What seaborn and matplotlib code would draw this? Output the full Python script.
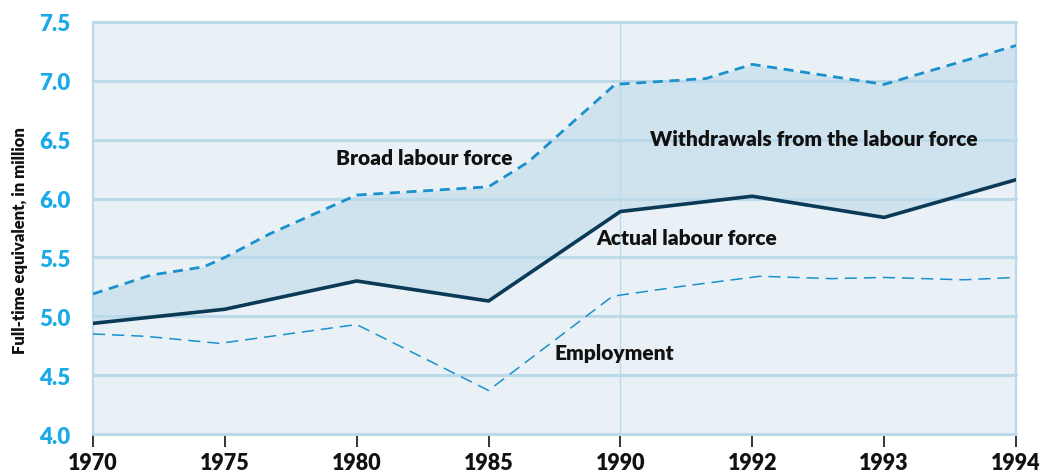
import numpy as np
import matplotlib
matplotlib.use("Agg")
import matplotlib.pyplot as plt
import seaborn as sns

# category years on the x axis (equally spaced in the chart)
tick_years = [1970, 1975, 1980, 1985, 1990, 1992, 1993, 1994]

# broad labour force
broad_years = [1970, 1972.2, 1974.2, 1975, 1976.7, 1980, 1985, 1986.5, 1989.8, 1991.3, 1992, 1993, 1994]
broad_vals = [5.19, 5.35, 5.42, 5.50, 5.70, 6.03, 6.10, 6.31, 6.97, 7.02, 7.14, 6.97, 7.30]

# actual labour force
actual_years = [1970, 1975, 1980, 1985, 1990, 1992, 1993, 1994]
actual_vals = [4.94, 5.06, 5.30, 5.13, 5.89, 6.02, 5.84, 6.16]

# employment
empl_years = [1970, 1972.0, 1974.8, 1980, 1985, 1989.7, 1990, 1991.0, 1992.06, 1992.6, 1993, 1993.6, 1994]
empl_vals = [4.85, 4.83, 4.77, 4.93, 4.37, 5.17, 5.18, 5.26, 5.34, 5.32, 5.33, 5.31, 5.33]

y_ticks = [4.0, 4.5, 5.0, 5.5, 6.0, 6.5, 7.0, 7.5]

sns.set_theme(style="white")
plt.rcParams['font.family'] = ['Lato', 'DejaVu Sans']

grid_c = '#bcd9ea'
bg_c = '#e9f1f6'
fill_c = '#cfe3ef'
dash_c = '#1a90cc'
navy = '#0b3a57'

pos = np.arange(len(tick_years))
fwd = lambda x: np.interp(x, tick_years, pos)
inv = lambda p: np.interp(p, pos, tick_years)

fig = plt.figure(figsize=(10.4, 4.77), dpi=100)
ax = fig.add_axes([0.0894, 0.088, 0.8875, 0.8638])
ax.set_xscale('function', functions=(fwd, inv))
ax.set_facecolor(bg_c)

# shaded band between broad and actual labour force
xs = np.union1d(broad_years, actual_years)
ax.fill_between(xs, np.interp(xs, actual_years, actual_vals),
                np.interp(xs, broad_years, broad_vals), color=fill_c, lw=0, zorder=1)

for v in y_ticks:
    ax.axhline(v, color=grid_c, lw=2.2, zorder=1.5, clip_on=False)
ax.axvline(1990, color=grid_c, lw=1, zorder=1.5)

sns.lineplot(x=broad_years, y=broad_vals, ax=ax, color=dash_c, lw=2,
             linestyle=(0, (3.6, 2.4)), zorder=3)
sns.lineplot(x=actual_years, y=actual_vals, ax=ax, color=navy, lw=2.6, zorder=3)
sns.lineplot(x=empl_years, y=empl_vals, ax=ax, color=dash_c, lw=1.1,
             linestyle=(0, (8, 4.5)), zorder=3)

ax.set_xlim(1970, 1994)
ax.set_ylim(4.0, 7.5)
ax.set_xticks(tick_years)
ax.set_xticklabels([str(y) for y in tick_years], fontsize=15.5, fontweight='heavy', color='#111111')
ax.set_yticks(y_ticks)
ax.set_yticklabels([f'{v:.1f}' for v in y_ticks], fontsize=16, fontweight='heavy', color='#1aaae8')
ax.tick_params(axis='x', direction='out', length=9, width=1.4, color='#333333', pad=4, bottom=True)
ax.tick_params(axis='y', length=0, pad=16)
ax.set_ylabel('Full-time equivalent, in million', fontsize=12, fontweight='heavy', color='#111111')
ax.yaxis.set_label_coords(-0.0704, 0.473)

for side in ['left', 'right']:
    ax.spines[side].set_color(grid_c)
    ax.spines[side].set_linewidth(1.6)
ax.spines['top'].set_visible(False)
ax.spines['bottom'].set_visible(False)

tk = dict(fontsize=15, fontweight='heavy', color='#111111', va='center', ha='left', zorder=4)
ax.text(1979.2, 6.35, 'Broad labour force', **tk)
ax.text(1990.45, 6.51, 'Withdrawals from the labour force', **tk)
ax.text(1989.1, 5.67, 'Actual labour force', **tk)
ax.text(1987.5, 4.69, 'Employment', **tk)

fig.savefig('out.png', dpi=100)
